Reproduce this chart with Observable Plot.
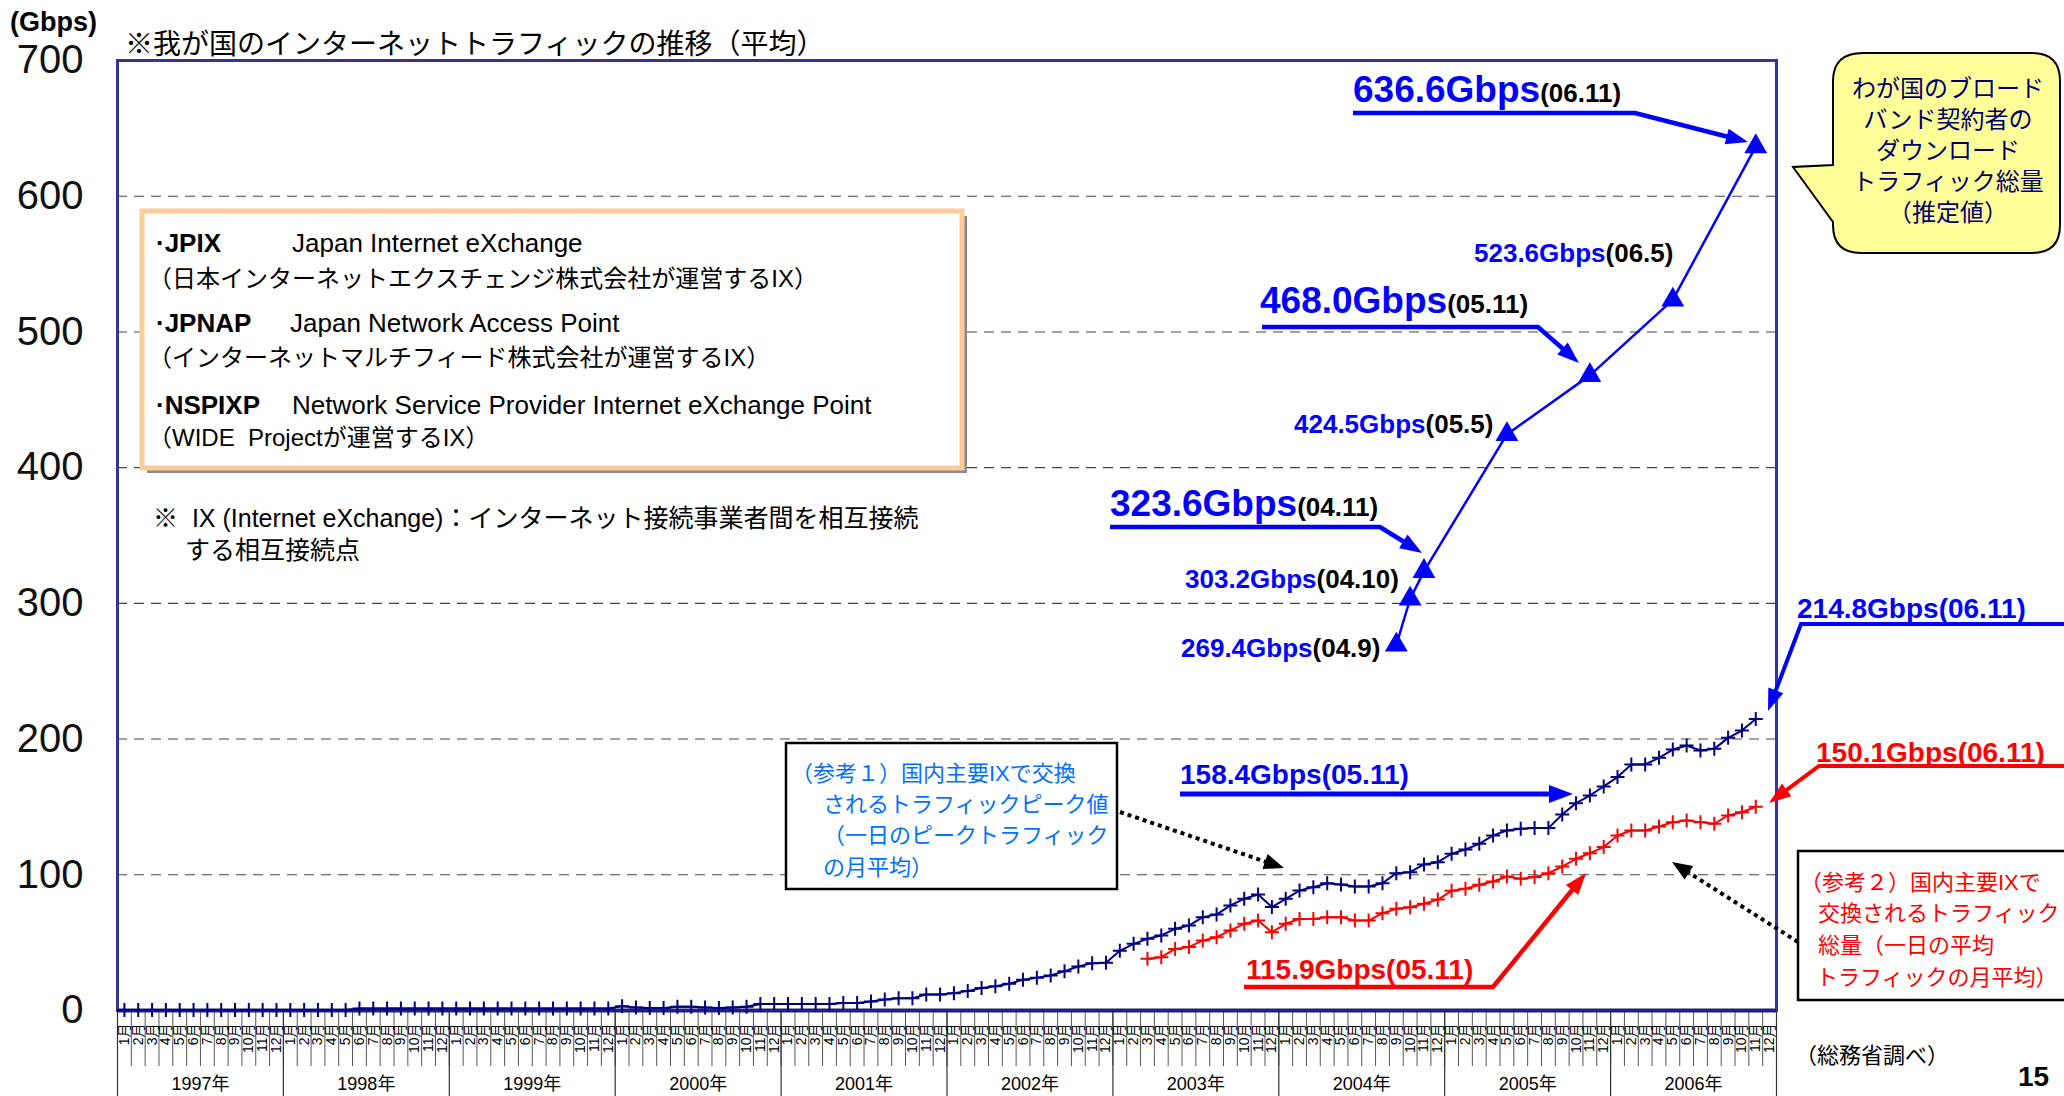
<!DOCTYPE html>
<html><head><meta charset="utf-8">
<script src="https://cdn.jsdelivr.net/npm/d3@7"></script>
<script src="https://cdn.jsdelivr.net/npm/@observablehq/plot@0.6"></script>
<style>
html,body{margin:0;padding:0;background:#fff;}
#chart{position:relative;width:2064px;height:1096px;overflow:hidden;}
svg{display:block;}
</style></head><body><div id="chart"></div>
<script>
// ---------------- data ----------------
const years = ["1997年","1998年","1999年","2000年","2001年","2002年","2003年","2004年","2005年","2006年"];
const monthLabels = ["1月","2月","3月","4月","5月","6月","7月","8月","9月","10月","11月","12月"];
const yTicks = [0,100,200,300,400,500,600,700];
const gridTicks = [100,200,300,400,500,600];

// (参考1) peak traffic, monthly, 1997-01 .. 2006-11 (Gbps)
const peakStart = "1997-01";
const peakValues = [
  0.3,0.3,0.3,0.3,0.3,0.3,0.3,0.3,0.3,0.3,0.3,0.3,
  0.4,0.4,0.4,0.4,0.4,1.5,1.5,1.5,1.5,1.5,1.5,1.5,
  1.5,1.5,1.5,1.5,1.5,1.5,1.5,1.5,1.5,1.5,1.5,1.5,
  3.2,2.2,1.8,1.8,2.8,2.8,2.2,1.8,2.2,2.8,4.8,4.8,
  4.8,4.8,4.8,4.8,5.6,5.6,6.6,8.1,9.1,9.1,11.8,11.8,
  12.8,14.3,16.5,17.9,19.7,22.6,24.1,25.8,29.0,32.4,34.9,35.2,
  44.0,49.1,52.8,55.3,60.2,62.6,68.8,70.7,77.4,82.3,85.5,76.2,
  82.3,88.4,90.9,93.8,92.9,91.4,91.4,93.8,101.2,101.9,107.6,109.3,
  115.5,118.6,122.8,129.0,132.6,133.9,134.4,134.4,144.4,152.8,158.4,165.1,
  172.0,181.3,181.3,186.2,192.3,195.3,191.6,192.8,200.9,206.3,214.8
];
// (参考2) total traffic, monthly, 2003-03 .. 2006-11 (Gbps)
const totalStart = "2003-03";
const totalValues = [
  38.1,39.3,45.4,46.7,51.6,54.0,59.0,63.9,66.3,57.7,
  63.9,67.5,67.5,68.8,68.8,66.3,66.3,71.7,74.9,76.1,78.6,81.7,
  88.2,89.7,92.6,95.1,98.7,97.0,98.3,101.2,106.1,111.8,115.9,120.4,
  129.0,132.6,132.6,135.6,138.8,140.0,138.8,137.6,143.7,146.1,150.1
];
// broadband download traffic (estimate)
const bbMonths = ["2004-09","2004-10","2004-11","2005-05","2005-11","2006-05","2006-11"];
const bbValues = [269.4,303.2,323.6,424.5,468.0,523.6,636.6];

// ---------------- helpers ----------------
const monthIndex = s => { const [y,m] = s.split("-").map(Number); return (y-1997)*12 + (m-1); };
const series = (start, vals) => vals.map((v,i) => ({t: monthIndex(start) + i + 0.5, v}));
const peakData = series(peakStart, peakValues);
const totalData = series(totalStart, totalValues);
const bbData = bbMonths.map((m,i) => ({t: monthIndex(m) + 0.5, v: bbValues[i]}));

const plusSymbol = {draw(ctx, size){ const r = Math.sqrt(size/Math.PI); ctx.moveTo(-r,0); ctx.lineTo(r,0); ctx.moveTo(0,-r); ctx.lineTo(0,r); }};

const W = 2064, H = 1096;
const M = {left:117, right:288, top:60, bottom:86};
const frameH = H - M.top - M.bottom;
const LATIN = "'Liberation Sans', Arial, 'Noto Sans CJK JP', sans-serif";
const CJK = "'Liberation Sans', 'Noto Sans CJK JP', sans-serif";

const chart = Plot.plot({
  width: W, height: H,
  marginLeft: M.left, marginRight: M.right, marginTop: M.top, marginBottom: M.bottom,
  style: {fontFamily: CJK, background: "#fff", color: "#000", overflow: "hidden"},
  x: {type: "linear", domain: [0, years.length*12], axis: null},
  y: {domain: [0, 700]},
  marks: [
    Plot.gridY(gridTicks, {stroke: "#444", strokeOpacity: 1, strokeWidth: 1.1, strokeDasharray: "10,7"}),
    Plot.axisY(yTicks, {tickSize: 0, tickPadding: 34, fontSize: 40, fontFamily: LATIN, fill: "#111", label: null}),
    // month separators and year separators under the axis
    Plot.ruleX(d3.range(0, years.length*12 + 1), {x: d => d, insetTop: frameH, insetBottom: -56, stroke: "#555", strokeWidth: 1}),
    Plot.ruleX(d3.range(0, years.length*12 + 1, 12), {x: d => d, insetTop: frameH, insetBottom: -90, stroke: "#333", strokeWidth: 1.2}),
    Plot.text(d3.range(years.length*12), {x: d => d + 0.5, text: d => monthLabels[d % 12], frameAnchor: "bottom", dy: 13, rotate: -90, textAnchor: "end", lineAnchor: "middle", fontSize: 14, fontFamily: CJK, fill: "#000"}),
    Plot.text(years, {x: (d,i) => i*12 + 6, text: d => d, frameAnchor: "bottom", dy: 79, fontSize: 18, fontFamily: CJK, fill: "#000"}),
    Plot.frame({stroke: "#333399", strokeWidth: 3}),
    Plot.ruleY([0], {stroke: "#1f1f80", strokeWidth: 4}),
    // data
    Plot.line(peakData, {x: "t", y: "v", stroke: "#000080", strokeWidth: 2}),
    Plot.dot(peakData, {x: "t", y: "v", symbol: plusSymbol, r: 7, stroke: "#000080", strokeWidth: 2, fill: "none"}),
    Plot.line(totalData, {x: "t", y: "v", stroke: "#ff0000", strokeWidth: 2}),
    Plot.dot(totalData, {x: "t", y: "v", symbol: plusSymbol, r: 7, stroke: "#ff0000", strokeWidth: 2, fill: "none"}),
    Plot.line(bbData, {x: "t", y: "v", stroke: "#0000ff", strokeWidth: 2.5}),
    Plot.dot(bbData, {x: "t", y: "v", symbol: "triangle", r: 8.5, fill: "#0000ff", stroke: "none"})
  ]
});
document.getElementById("chart").appendChild(chart);

// ---------------- annotations ----------------
const svg = d3.select(chart);
const ann = svg.append("g");

function txt(x, y, parts, o = {}) {
  const t = ann.append("text").attr("x", x).attr("y", y)
    .attr("font-family", o.family || CJK).attr("font-size", o.size || 24)
    .attr("text-anchor", o.anchor || "start").attr("fill", o.fill || "#000")
    .attr("font-weight", o.weight || "normal").style("white-space", "pre");
  (Array.isArray(parts) ? parts : [parts]).forEach(p => {
    if (typeof p === "string") { t.append("tspan").text(p); return; }
    const s = t.append("tspan").text(p.t);
    if (p.x != null) s.attr("x", p.x);
    if (p.fill) s.attr("fill", p.fill);
    if (p.size) s.attr("font-size", p.size);
    if (p.weight) s.attr("font-weight", p.weight);
    if (p.family) s.attr("font-family", p.family);
  });
  return t;
}
function arrow(pts, o) {
  const [tx, ty] = pts[pts.length-1], [px, py] = pts[pts.length-2];
  const a = Math.atan2(ty-py, tx-px), L = o.head || 20, Wd = o.headW || 16;
  const bx = tx - L*Math.cos(a), by = ty - L*Math.sin(a);
  const line = pts.slice(0, -1).concat([[bx + 2*Math.cos(a), by + 2*Math.sin(a)]]);
  ann.append("path").attr("d", d3.line()(line)).attr("fill", "none")
    .attr("stroke", o.color).attr("stroke-width", o.width || 4)
    .attr("stroke-dasharray", o.dash || null).attr("stroke-linejoin", "miter");
  const nx = -Math.sin(a), ny = Math.cos(a);
  ann.append("path").attr("d", `M${tx},${ty}L${bx + nx*Wd/2},${by + ny*Wd/2}L${bx - nx*Wd/2},${by - ny*Wd/2}Z`).attr("fill", o.color);
}

// y unit, title
txt(10, 31, "(Gbps)", {family: LATIN, size: 27, weight: "bold"});
txt(125, 54, "※我が国のインターネットトラフィックの推移（平均）", {size: 28});

// legend box
ann.append("rect").attr("x", 147).attr("y", 216).attr("width", 820).attr("height", 257).attr("fill", "#8a8a8a");
ann.append("rect").attr("x", 142).attr("y", 211).attr("width", 820).attr("height", 257).attr("fill", "#fff").attr("stroke", "#ffcc99").attr("stroke-width", 5);
txt(156, 252, [{t: "·JPIX", weight: "bold"}, {t: "Japan Internet eXchange", x: 292}], {family: LATIN, size: 26});
txt(148, 287, "（日本インターネットエクスチェンジ株式会社が運営するIX）", {size: 24});
txt(156, 332, [{t: "·JPNAP", weight: "bold"}, {t: "Japan Network Access Point", x: 290}], {family: LATIN, size: 26});
txt(148, 366, "（インターネットマルチフィード株式会社が運営するIX）", {size: 24});
txt(156, 414, [{t: "·NSPIXP", weight: "bold"}, {t: "Network Service Provider Internet eXchange Point", x: 292}], {family: LATIN, size: 26});
txt(148, 446, "（WIDE  Projectが運営するIX）", {size: 24});
txt(153, 527, "※  IX (Internet eXchange)：インターネット接続事業者間を相互接続", {size: 25});
txt(185, 559, "する相互接続点", {size: 25});

// broadband value labels
const BL = "#0000ff";
txt(1353, 102, [{t: "636.6Gbps", fill: BL, size: 37}, {t: "(06.11)", size: 26}], {family: LATIN, weight: "bold"});
arrow([[1353,113],[1635,113],[1748,142]], {color: BL, width: 4.5, head: 22, headW: 16});
txt(1474, 262, [{t: "523.6Gbps", fill: BL}, {t: "(06.5)"}], {family: LATIN, weight: "bold", size: 26});
txt(1260, 313, [{t: "468.0Gbps", fill: BL, size: 37}, {t: "(05.11)", size: 26}], {family: LATIN, weight: "bold"});
arrow([[1262,327],[1538,327],[1579,363]], {color: BL, width: 4.5, head: 22, headW: 16});
txt(1294, 433, [{t: "424.5Gbps", fill: BL}, {t: "(05.5)"}], {family: LATIN, weight: "bold", size: 26});
txt(1110, 516, [{t: "323.6Gbps", fill: BL, size: 37}, {t: "(04.11)", size: 26}], {family: LATIN, weight: "bold"});
arrow([[1110,527],[1380,527],[1422,553]], {color: BL, width: 4.5, head: 22, headW: 16});
txt(1185, 588, [{t: "303.2Gbps", fill: BL}, {t: "(04.10)"}], {family: LATIN, weight: "bold", size: 26});
txt(1181, 657, [{t: "269.4Gbps", fill: BL}, {t: "(04.9)"}], {family: LATIN, weight: "bold", size: 26});

// callout bubble
const bub = "M1863,53 L2032,53 Q2060,53 2060,81 L2060,225 Q2060,253 2032,253 L1861,253 Q1833,253 1833,225 L1833,222 L1793,167 L1833,165 L1833,81 Q1833,53 1863,53 Z";
ann.append("path").attr("d", bub).attr("fill", "#ffff99").attr("stroke", "#000").attr("stroke-width", 2);
["わが国のブロード","バンド契約者の","ダウンロード","トラフィック総量","（推定値）"].forEach((s,i) =>
  txt(1948, 97 + i*31, s, {size: 24, anchor: "middle", fill: "#000066"}));

// peak / total labels
txt(1797, 618, "214.8Gbps(06.11)", {family: LATIN, weight: "bold", size: 28, fill: BL});
arrow([[2064,624],[1801,624],[1768,711]], {color: BL, width: 4, head: 22, headW: 16});
txt(1816, 762, "150.1Gbps(06.11)", {family: LATIN, weight: "bold", size: 28, fill: "#ff0000"});
arrow([[2064,766],[1819,766],[1769,803]], {color: "#ff0000", width: 4, head: 22, headW: 16});
txt(1180, 784, "158.4Gbps(05.11)", {family: LATIN, weight: "bold", size: 28, fill: BL});
arrow([[1180,794],[1573,794]], {color: BL, width: 5, head: 24, headW: 18});
txt(1246, 979, "115.9Gbps(05.11)", {family: LATIN, weight: "bold", size: 28, fill: "#ff0000"});
arrow([[1244,987],[1493,987],[1586,873]], {color: "#ff0000", width: 4.5, head: 22, headW: 16});

// reference boxes
ann.append("rect").attr("x", 786).attr("y", 743).attr("width", 331).attr("height", 146).attr("fill", "#fff").attr("stroke", "#000").attr("stroke-width", 2.5);
const B1 = "#0070ff";
txt(791, 781, "（参考１）国内主要IXで交換", {size: 22, fill: B1});
txt(823, 812, "されるトラフィックピーク値", {size: 22, fill: B1});
txt(823, 843, "（一日のピークトラフィック", {size: 22, fill: B1});
txt(823, 875, "の月平均）", {size: 22, fill: B1});
arrow([[1120,812],[1284,868]], {color: "#000", width: 4, dash: "4,4", head: 20, headW: 16});

ann.append("rect").attr("x", 1798).attr("y", 851).attr("width", 300).attr("height", 149).attr("fill", "#fff").attr("stroke", "#000").attr("stroke-width", 2.5);
txt(1800, 890, "（参考２）国内主要IXで", {size: 22, fill: "#ff0000"});
txt(1818, 921, "交換されるトラフィック", {size: 22, fill: "#ff0000"});
txt(1818, 953, "総量（一日の平均", {size: 22, fill: "#ff0000"});
txt(1816, 985, "トラフィックの月平均）", {size: 22, fill: "#ff0000"});
arrow([[1798,942],[1672,862]], {color: "#000", width: 4, dash: "4,4", head: 20, headW: 16});

// source + page number
txt(1795, 1063, "（総務省調べ）", {size: 22});
txt(2018, 1086, "15", {family: LATIN, size: 28, weight: "bold"});
</script></body></html>
